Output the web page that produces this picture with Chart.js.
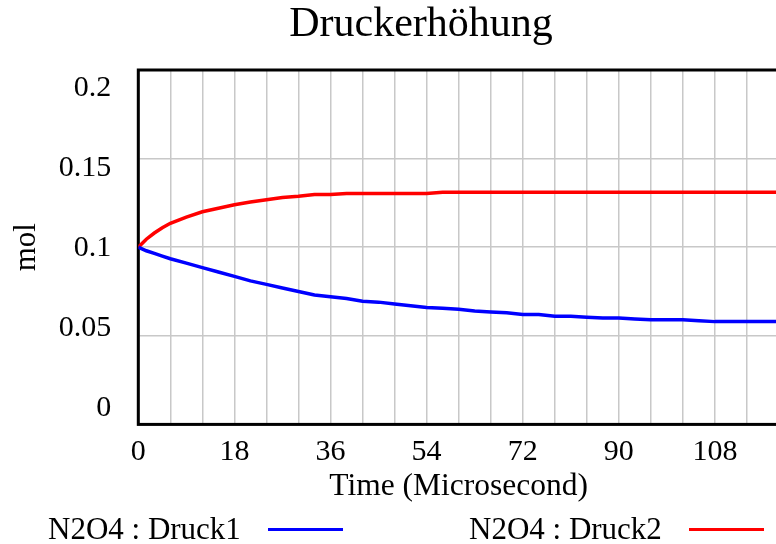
<!DOCTYPE html>
<html>
<head>
<meta charset="utf-8">
<title>Druckerhöhung</title>
<script src="https://cdn.jsdelivr.net/npm/chart.js@4.4.1/dist/chart.umd.min.js"></script>
<style>
  html, body { margin: 0; padding: 0; background: #fff; overflow: hidden; }
  #wrap   { position: relative; width: 842px; height: 544px; }
  #legend { position: absolute; left: 0; top: 0; width: 842px; height: 544px; pointer-events: none;
            font-family: 'Liberation Serif', 'Times New Roman', serif; font-size: 31px; line-height: 31px; color: #000; }
  .lg-text { position: absolute; top: 513px; white-space: nowrap; }
  .lg-line { position: absolute; top: 528px; width: 75px; height: 3px; }
</style>
</head>
<body>
<div id="wrap">
  <canvas id="chart" width="842" height="544"></canvas>
  <div id="legend"></div>
</div>
<script>
// ── Data ─────────────────────────────────────────────────────────────
const times = [0, 1.5, 3, 4.5, 6, 9, 12, 15, 18, 21, 24, 27, 30, 33, 36, 39, 42, 45, 48, 51, 54, 57,
               60, 63, 66, 69, 72, 75, 78, 81, 84, 87, 90, 93, 96, 99, 102, 105, 108, 111, 114, 117, 120];
const druck1 = [0.100, 0.098, 0.0965, 0.095, 0.0935, 0.091, 0.0885, 0.086, 0.0835, 0.081, 0.079, 0.077,
                0.075, 0.073, 0.072, 0.071, 0.0695, 0.069, 0.068, 0.067, 0.066, 0.0655,
                0.065, 0.064, 0.0635, 0.063, 0.062, 0.062, 0.061, 0.061, 0.0605, 0.060,
                0.060, 0.0595, 0.059, 0.059, 0.059, 0.0585, 0.058, 0.058, 0.058, 0.058, 0.058];
const druck2 = [0.100, 0.1045, 0.108, 0.111, 0.1135, 0.117, 0.120, 0.122, 0.124, 0.1255, 0.1268, 0.128,
                0.1287, 0.1297, 0.1297, 0.1303, 0.1303, 0.1303, 0.1303, 0.1303, 0.1303, 0.131,
                0.131, 0.131, 0.131, 0.131, 0.131, 0.131, 0.131, 0.131, 0.131, 0.131,
                0.131, 0.131, 0.131, 0.131, 0.131, 0.131, 0.131, 0.131, 0.131, 0.131, 0.131];

const seriesLabels = ['N2O4 : Druck1', 'N2O4 : Druck2'];
const seriesColors = ['#0000ff', '#ff0000'];
const xTickVals    = [0, 18, 36, 54, 72, 90, 108];
const yTickVals    = [0, 0.05, 0.1, 0.15, 0.2];
const yTickLabels  = ['0', '0.05', '0.1', '0.15', '0.2'];

// ── Styling ──────────────────────────────────────────────────────────
const FONT = 'Liberation Serif';
const GRID = '#c8c8c8';
const X_GRID_STEP = 6;

// black frame around the plot area, drawn over grid but under the lines
const framePlugin = {
  id: 'frame',
  beforeDatasetsDraw(chart) {
    const { ctx, chartArea: a } = chart;
    ctx.save();
    ctx.strokeStyle = '#000';
    ctx.lineWidth = 3;
    ctx.strokeRect(a.left, a.top, a.right - a.left, a.bottom - a.top);
    ctx.restore();
  },
};

new Chart(document.getElementById('chart'), {
  type: 'line',
  data: {
    datasets: [
      { label: seriesLabels[0], data: times.map((t, i) => ({ x: t, y: druck1[i] })),
        borderColor: seriesColors[0], borderWidth: 3.5, pointRadius: 0, tension: 0, fill: false, yAxisID: 'y' },
      { label: seriesLabels[1], data: times.map((t, i) => ({ x: t, y: druck2[i] })),
        borderColor: seriesColors[1], borderWidth: 3.5, pointRadius: 0, tension: 0, fill: false, yAxisID: 'y' },
    ],
  },
  options: {
    responsive: false,
    animation: false,
    events: [],
    layout: { padding: 0 },
    plugins: {
      legend: { display: false },
      tooltip: { enabled: false },
      title: {
        display: true, text: 'Druckerhöhung', color: '#000',
        font: { family: FONT, size: 42, weight: 'normal' },
        padding: { top: 0, bottom: 19.6 },
      },
    },
    scales: {
      x: {
        type: 'linear', min: 0, max: 120,
        afterBuildTicks: s => {
          const t = [];
          for (let v = 0; v <= 120; v += X_GRID_STEP) t.push({ value: v });
          s.ticks = t;
        },
        afterFit: s => { s.height = 119.6; },
        ticks: {
          autoSkip: false, maxRotation: 0, padding: 10, color: '#000',
          font: { family: FONT, size: 30 },
          callback: v => xTickVals.includes(v) ? String(v) : '',
        },
        grid: { color: GRID, lineWidth: 1.5, drawTicks: false },
        border: { display: false },
        title: {
          display: true, text: 'Time (Microsecond)', color: '#000',
          font: { family: FONT, size: 31.5 }, padding: { top: 0, bottom: 38 },
        },
      },
      y: {
        type: 'linear', position: 'left', weight: 0, min: 0, max: 0.2,
        afterBuildTicks: s => { s.ticks = yTickVals.map(v => ({ value: v })); },
        afterFit: s => { s.width = 0; },
        ticks: { display: false },
        grid: { color: GRID, lineWidth: 1.5, drawTicks: false },
        border: { display: false },
      },
      // label-only axis: Vensim-style labels spread inside the frame
      yl: {
        type: 'linear', position: 'left', weight: 1, min: -0.00988, max: 0.21158,
        afterBuildTicks: s => { s.ticks = yTickVals.map(v => ({ value: v })); },
        afterFit: s => { s.width = 138.3; },
        ticks: {
          padding: 27, color: '#000', font: { family: FONT, size: 30 },
          callback: (v, i) => yTickLabels[i],
        },
        grid: { display: false, drawTicks: false },
        border: { display: false },
        title: {
          display: true, text: 'mol', color: '#000',
          font: { family: FONT, size: 31 }, padding: { top: 8, bottom: 0 },
        },
      },
      // empty right-hand spacer so the plot runs past the visible edge
      yr: {
        type: 'linear', position: 'right', min: 0, max: 1,
        afterFit: s => { s.width = 63; },
        ticks: { display: false },
        grid: { display: false, drawTicks: false },
        border: { display: false },
      },
    },
  },
  plugins: [framePlugin],
});

// ── Legend (Vensim style: text then line sample, one half-width cell each) ──
const legend = document.getElementById('legend');
seriesLabels.forEach((lbl, i) => {
  const x0 = i * 421;
  const txt = document.createElement('span');
  txt.className = 'lg-text';
  txt.style.left = (x0 + 48) + 'px';
  txt.textContent = lbl;
  const line = document.createElement('div');
  line.className = 'lg-line';
  line.style.left = (x0 + 268) + 'px';
  line.style.background = seriesColors[i];
  legend.appendChild(txt);
  legend.appendChild(line);
});
</script>
</body>
</html>
